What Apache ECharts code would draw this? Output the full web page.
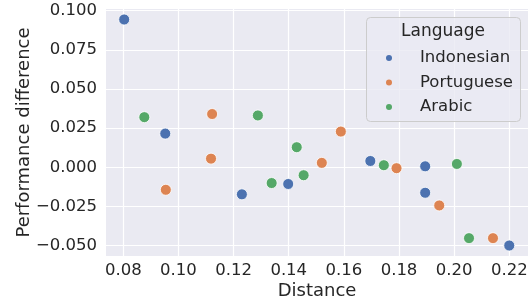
<!DOCTYPE html>
<html>
<head>
<meta charset="utf-8">
<script src="https://cdn.jsdelivr.net/npm/echarts@6/dist/echarts.min.js"></script>
<style>html,body{margin:0;padding:0;background:#fff}#c{width:532px;height:302px}</style>
</head>
<body>
<div id="c"></div>
<script>
const languages = ['Indonesian', 'Portuguese', 'Arabic'];
const colors = ['#4C72B0', '#DD8452', '#55A868'];
const indonesianX = [0.0803, 0.0952, 0.1230, 0.1398, 0.1696, 0.1895, 0.1895, 0.2200];
const indonesianY = [0.0944, 0.0215, -0.0173, -0.0107, 0.0040, 0.0006, -0.0163, -0.0500];
const portugueseX = [0.1122, 0.0954, 0.1118, 0.1520, 0.1589, 0.1791, 0.1946, 0.2141];
const portugueseY = [0.0340, -0.0144, 0.0055, 0.0028, 0.0228, -0.0006, -0.0244, -0.0453];
const arabicX = [0.0876, 0.1288, 0.1429, 0.1338, 0.1454, 0.1745, 0.2010, 0.2054];
const arabicY = [0.0320, 0.0331, 0.0128, -0.0101, -0.0051, 0.0013, 0.0021, -0.0453];
const xTicks = [0.08, 0.10, 0.12, 0.14, 0.16, 0.18, 0.20, 0.22];
const yTicks = [-0.050, -0.025, 0.000, 0.025, 0.050, 0.075, 0.100];
const xLabel = 'Distance';
const yLabel = 'Performance difference';
const legendTitle = 'Language';

const seriesX = [indonesianX, portugueseX, arabicX];
const seriesY = [indonesianY, portugueseY, arabicY];
const txt = '#262626';
const font = 'DejaVu Sans';

const chart = echarts.init(document.getElementById('c'), null, {renderer: 'canvas'});
chart.setOption({
  animation: false,
  backgroundColor: '#ffffff',
  textStyle: {fontFamily: font},
  grid: {left: 106, right: 4, top: 9, bottom: 46, show: true, backgroundColor: '#EAEAF2', borderWidth: 0,
    containLabel: false, outerBoundsMode: 'none'},
  xAxis: {
    type: 'value', min: 0.0737, max: 0.2268,
    name: xLabel, nameLocation: 'middle', nameGap: 26, nameMoveOverlap: false,
    nameTextStyle: {fontSize: 18, color: txt, fontFamily: font},
    axisLine: {show: false},
    axisTick: {show: false, customValues: xTicks},
    axisLabel: {customValues: xTicks, margin: 6, fontSize: 16.5, color: txt, fontFamily: font,
      formatter: v => v.toFixed(2)},
    splitLine: {show: true, lineStyle: {color: '#ffffff', width: 1.2}}
  },
  yAxis: {
    type: 'value', min: -0.0567, max: 0.1011,
    name: yLabel, nameLocation: 'middle', nameGap: 73, nameMoveOverlap: false,
    nameTextStyle: {fontSize: 18, color: txt, fontFamily: font},
    axisLine: {show: false},
    axisTick: {show: false, customValues: yTicks},
    axisLabel: {customValues: yTicks, margin: 9, fontSize: 16.5, color: txt, fontFamily: font,
      formatter: v => (v < 0 ? '\u2212' : '') + Math.abs(v).toFixed(3)},
    splitLine: {show: true, lineStyle: {color: '#ffffff', width: 1.2}}
  },
  legend: {
    orient: 'vertical', left: 386, top: 48, padding: 0, z: 20,
    itemWidth: 52, itemHeight: 6, itemGap: 4.5, icon: 'circle',
    itemStyle: {borderWidth: 0},
    textStyle: {fontSize: 16.5, color: txt, fontFamily: font, lineHeight: 20},
    data: languages
  },
  graphic: [
    {type: 'rect', z: 10, shape: {x: 366.5, y: 17.5, width: 154, height: 104, r: 4},
      style: {fill: 'rgba(234,234,242,0.8)', stroke: '#cccccc', lineWidth: 1}},
    {type: 'text', z: 11, x: 443, y: 32,
      style: {text: legendTitle, fontSize: 17, fontFamily: font, fill: txt, align: 'center', verticalAlign: 'middle'}}
  ],
  series: languages.map((name, i) => ({
    name: name, type: 'scatter', symbolSize: 11, z: 3,
    itemStyle: {color: colors[i], borderColor: '#ffffff', borderWidth: 0.8, opacity: 1},
    data: seriesX[i].map((x, j) => [x, seriesY[i][j]])
  }))
});
</script>
</body>
</html>
